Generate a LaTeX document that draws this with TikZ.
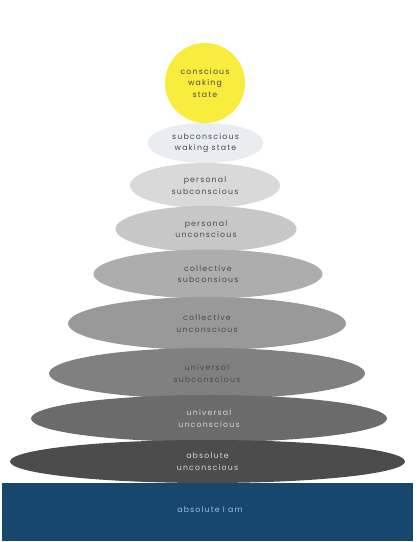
\documentclass[tikz,border=0pt]{standalone}
\usepackage{fontspec}
\usepackage{tikz}
\usetikzlibrary{shapes.geometric}
\newfontfamily\layerfont[LetterSpace=15]{Poppins}

\definecolor{sunyellow}{HTML}{F8EC3C}
\definecolor{wakinggrey}{HTML}{E9EDF2}
\definecolor{iamblue}{HTML}{17466E}
\definecolor{iamtext}{HTML}{9CC0DC}
\definecolor{darktext}{HTML}{4A4A4A}
\definecolor{lighttext}{HTML}{D6D6D6}

\tikzset{
  layer/.style={ellipse, inner sep=0pt, align=center, text=darktext,
    font=\layerfont\fontsize{7.8}{11.5}\selectfont},
  lightlayer/.style={layer, text=lighttext},
}

\begin{document}
\begin{tikzpicture}[x=1pt,y=1pt]
	\useasboundingbox (0,0) rectangle (416,542);
	\node[layer, circle, fill=sunyellow, minimum size=80pt] (cws) at (205,459) {conscious\\waking\\state};
	\node[layer, fill=wakinggrey, minimum width=116pt, minimum height=40pt] (sws) at (205.5,399) {subconscious\\waking state};
	\node[layer, fill=black!15, minimum width=150pt, minimum height=45pt] (ps) at (205,356.5) {personal\\subconscious};
	\node[layer, fill=black!22, minimum width=181pt, minimum height=46pt] (pu) at (206,313) {personal\\unconscious};
	\node[layer, fill=black!32, minimum width=229pt, minimum height=49pt] (cs) at (208,268) {collective\\subconsious};
	\node[layer, fill=black!40, minimum width=278pt, minimum height=53pt] (cu) at (207,218.5) {collective\\unconscious};
	\node[layer, fill=black!50, minimum width=316pt, minimum height=51pt] (us) at (207,168.5) {universal\\subconscious};
	\node[lightlayer, fill=black!58, minimum width=356pt, minimum height=47pt] (uu) at (209,123.5) {universal\\unconscious};
	\node[lightlayer, fill=black!70, minimum width=395pt, minimum height=43pt] (au) at (207.5,80.5) {absolute\\unconscious};
	\node[layer, rectangle, fill=iamblue, text=iamtext, minimum width=411pt, minimum height=58pt] (iam) at (207.5,30) {};
	\node[layer, rectangle, text=iamtext] (iamlabel) at (210,32) {absolute I am};
\end{tikzpicture}
\end{document}
